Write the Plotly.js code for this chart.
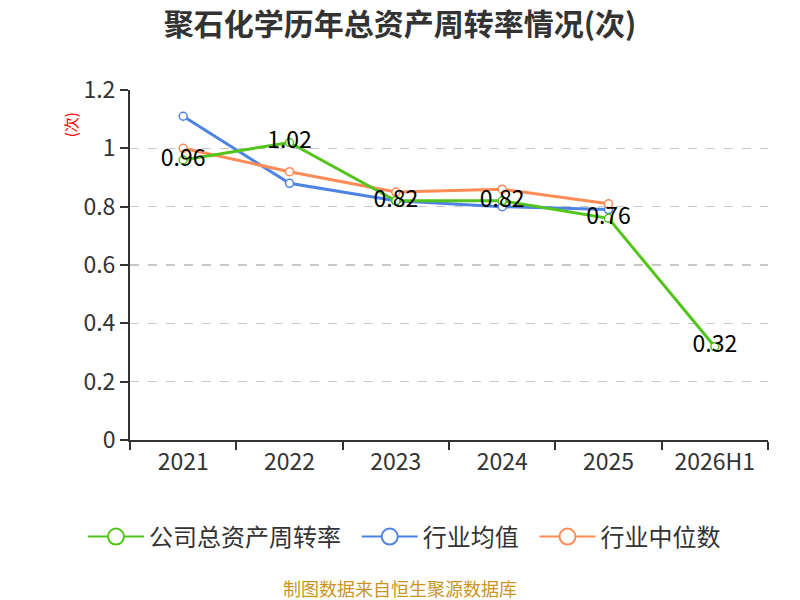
<!DOCTYPE html>
<html><head><meta charset="utf-8">
<script src="https://cdn.plot.ly/plotly-3.0.1.min.js"></script>
<style>html,body{margin:0;padding:0;background:#fff}#c{width:800px;height:600px}</style>
</head><body><div id="c"></div>
<script>
const categories = ["2021","2022","2023","2024","2025","2026H1"];
const companyName = "公司总资产周转率";
const companyValues = [0.96, 1.02, 0.82, 0.82, 0.76, 0.32];
const meanName = "行业均值";
const meanValues = [1.11, 0.88, 0.82, 0.80, 0.79, null];
const medianName = "行业中位数";
const medianValues = [1.00, 0.92, 0.85, 0.86, 0.81, null];
const yTicks = [0, 0.2, 0.4, 0.6, 0.8, 1, 1.2];
const yTickLabels = ["0","0.2","0.4","0.6","0.8","1","1.2"];

const FONT = '"Noto Sans CJK SC", "Noto Sans", sans-serif';
const COLORS = {company:'#52c41a', mean:'#4f83e3', median:'#ff8b56'};
function mk(name, y, color, withText){
  const t = {
    type:'scatter', mode: withText ? 'lines+markers+text' : 'lines+markers',
    name, x: categories, y, showlegend:false,
    line:{color, width:3},
    marker:{symbol:'circle', size:8, color:'#ffffff', line:{color, width:1.5}},
    cliponaxis:false, hoverinfo:'none'
  };
  if (withText){
    t.text = y.map(v => v==null ? '' : String(v));
    t.textposition = 'middle center';
    t.textfont = {family: FONT, size:23, color:'#000'};
  }
  return t;
}
function legendItem(name, color, rank){
  return {type:'scatter', mode:'lines+markers', name: name + '\u00a0\u00a0', x:[null], y:[null], showlegend:true, legendrank:rank,
    line:{color, width:2}, marker:{symbol:'circle', size:18, color:'#ffffff', line:{color, width:2}}, hoverinfo:'none'};
}
const data = [
  mk(meanName, meanValues, COLORS.mean, false),
  mk(medianName, medianValues, COLORS.median, false),
  mk(companyName, companyValues, COLORS.company, true),
  legendItem(companyName, COLORS.company, 1),
  legendItem(meanName, COLORS.mean, 2),
  legendItem(medianName, COLORS.median, 3)
];

const layout = {
  width:800, height:600,
  margin:{l:130, r:32, t:90, b:160},
  paper_bgcolor:'#fff', plot_bgcolor:'#fff',
  font:{family: FONT, color:'#333'},
  title:{text:'<b>聚石化学历年总资产周转率情况(次)</b>', x:0.5, xanchor:'center', y:0.96, yanchor:'middle',
         font:{family: FONT, size:30, color:'#333'}},
  xaxis:{type:'category', tickson:'boundaries', ticks:'outside', ticklen:8, tickwidth:2, tickcolor:'#333',
         showline:true, linecolor:'#333', linewidth:2, showgrid:false, zeroline:false,
         tickfont:{family: FONT, size:23, color:'#333'}, range:[-0.5,5.5], fixedrange:true},
  yaxis:{range:[0,1.2], tickvals:yTicks, ticktext:yTickLabels, ticks:'outside', ticklen:8, tickwidth:2, tickcolor:'#333',
         showline:true, linecolor:'#333', linewidth:2, showgrid:true, gridcolor:'#c8c8c8', griddash:'dash', gridwidth:1.5,
         zeroline:false, tickfont:{family: FONT, size:23, color:'#333'}, fixedrange:true},
  showlegend:true,
  legend:{orientation:'h', x:-0.0737, xanchor:'left', y:-0.277, yanchor:'middle', itemsizing:'trace',
          font:{family: FONT, size:24, color:'#333'}, itemwidth:56, traceorder:'normal'},
  annotations:[
    {text:'(次)', xref:'paper', yref:'paper', x:-0.113, y:0.942, showarrow:false, textangle:-90,
     font:{family: FONT, size:15, color:'#ff0000'}},
    {text:'制图数据来自恒生聚源数据库', xref:'paper', yref:'paper', x:0.423, y:-0.423, xanchor:'center', yanchor:'middle',
     showarrow:false, font:{family: FONT, size:18, color:'#c8961e'}}
  ]
};
Plotly.newPlot('c', data, layout, {staticPlot:true, displayModeBar:false});
</script></body></html>
